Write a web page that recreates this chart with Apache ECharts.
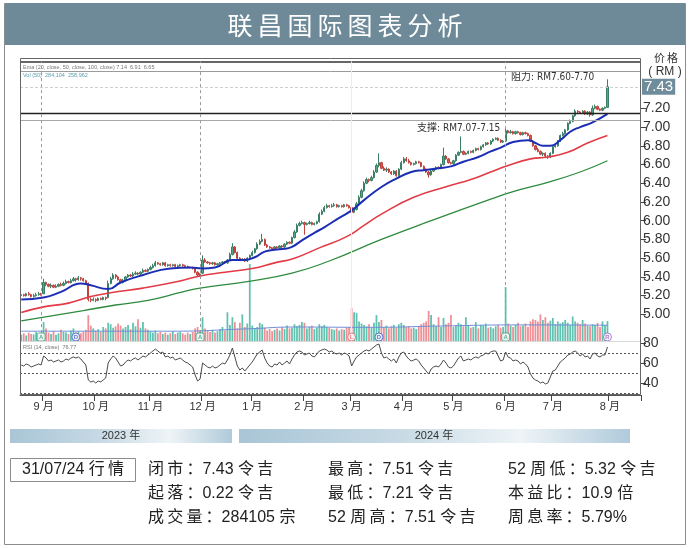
<!DOCTYPE html>
<html>
<head>
<meta charset="utf-8">
<title>联昌国际图表分析</title>
<script src="https://cdn.jsdelivr.net/npm/echarts@6/dist/echarts.min.js"></script>
<style>
html, body { margin: 0; padding: 0; background: #fff; }
#chart { width: 690px; height: 548px; }
</style>
</head>
<body>
<div id="chart"></div>
<script>
// month labels for the time axis (first trading day of each month)
var monthNames = ['', '9 月', '10 月', '11 月', '12 月', '1 月', '2 月', '3 月', '4 月', '5 月', '6 月', '7 月'];
var padLabel = '8 月';
var padDays = 13;

// daily candles [open, close, low, high]
var k2308 = [[5.20,5.21,5.18,5.23],[5.21,5.20,5.19,5.22],[5.20,5.22,5.19,5.23],[5.22,5.21,5.20,5.24],[5.21,5.19,5.18,5.22],[5.19,5.20,5.18,5.22],[5.20,5.21,5.19,5.23],[5.21,5.22,5.20,5.24],[5.22,5.21,5.20,5.23]];
var k2309 = [[5.22,5.34,5.22,5.38],[5.34,5.32,5.30,5.35],[5.32,5.30,5.29,5.33],[5.30,5.31,5.28,5.33],[5.31,5.29,5.28,5.32],[5.29,5.30,5.28,5.32],[5.30,5.32,5.29,5.33],[5.32,5.31,5.30,5.34],[5.31,5.33,5.30,5.35],[5.33,5.35,5.32,5.37],[5.35,5.34,5.33,5.36],[5.34,5.36,5.33,5.38],[5.36,5.38,5.35,5.40],[5.38,5.37,5.35,5.39],[5.37,5.39,5.36,5.41],[5.39,5.38,5.36,5.40],[5.38,5.36,5.35,5.39],[5.36,5.33,5.32,5.37],[5.33,5.16,5.14,5.34],[5.16,5.15,5.13,5.18],[5.15,5.16,5.14,5.18]];
var k2310 = [[5.16,5.15,5.13,5.17],[5.15,5.17,5.14,5.18],[5.17,5.16,5.15,5.18],[5.16,5.18,5.15,5.19],[5.18,5.17,5.15,5.19],[5.18,5.33,5.17,5.36],[5.33,5.38,5.32,5.40],[5.38,5.42,5.37,5.44],[5.42,5.40,5.38,5.43],[5.40,5.37,5.36,5.41],[5.37,5.34,5.33,5.38],[5.34,5.36,5.33,5.38],[5.36,5.40,5.35,5.41],[5.40,5.42,5.39,5.43],[5.42,5.41,5.40,5.43],[5.41,5.43,5.40,5.45],[5.43,5.44,5.42,5.46],[5.44,5.43,5.42,5.45],[5.43,5.45,5.42,5.46],[5.45,5.47,5.44,5.49],[5.47,5.46,5.45,5.48],[5.46,5.48,5.45,5.49]];
var k2311 = [[5.48,5.50,5.47,5.52],[5.50,5.52,5.49,5.54],[5.52,5.55,5.51,5.57],[5.55,5.54,5.53,5.56],[5.54,5.53,5.52,5.55],[5.53,5.55,5.52,5.56],[5.55,5.52,5.51,5.56],[5.52,5.53,5.51,5.54],[5.53,5.52,5.51,5.54],[5.52,5.53,5.51,5.54],[5.53,5.51,5.50,5.54],[5.51,5.52,5.50,5.53],[5.52,5.53,5.51,5.54],[5.53,5.52,5.51,5.54],[5.52,5.51,5.50,5.53],[5.51,5.50,5.49,5.52],[5.50,5.50,5.49,5.51],[5.50,5.49,5.48,5.51],[5.49,5.45,5.44,5.50],[5.45,5.42,5.40,5.46],[5.42,5.43,5.40,5.44]];
var k2312 = [[5.44,5.58,5.43,5.63],[5.58,5.56,5.55,5.60],[5.56,5.55,5.54,5.57],[5.55,5.54,5.53,5.56],[5.54,5.55,5.53,5.56],[5.55,5.53,5.52,5.56],[5.53,5.54,5.52,5.55],[5.54,5.55,5.53,5.56],[5.55,5.56,5.54,5.57],[5.56,5.55,5.54,5.57],[5.55,5.58,5.54,5.59],[5.58,5.64,5.57,5.66],[5.64,5.72,5.63,5.76],[5.72,5.66,5.65,5.73],[5.66,5.60,5.59,5.67],[5.60,5.58,5.57,5.61],[5.58,5.59,5.57,5.60],[5.59,5.57,5.56,5.60],[5.57,5.60,5.56,5.61],[5.60,5.63,5.59,5.64]];
var k2401 = [[5.63,5.66,5.62,5.68],[5.66,5.70,5.65,5.71],[5.70,5.75,5.69,5.77],[5.75,5.78,5.74,5.80],[5.78,5.80,5.77,5.86],[5.80,5.74,5.73,5.81],[5.74,5.72,5.71,5.75],[5.72,5.71,5.70,5.73],[5.71,5.70,5.69,5.72],[5.70,5.72,5.69,5.73],[5.72,5.71,5.70,5.73],[5.71,5.73,5.70,5.74],[5.73,5.72,5.71,5.74],[5.72,5.75,5.71,5.76],[5.75,5.77,5.74,5.78],[5.77,5.76,5.75,5.78],[5.76,5.82,5.75,5.83],[5.82,5.88,5.81,5.90],[5.88,5.95,5.87,5.97],[5.95,5.97,5.94,5.99],[5.97,5.98,5.96,6.00]];
var k2402 = [[5.98,5.96,5.85,5.99],[5.96,5.97,5.95,5.98],[5.97,5.98,5.96,6.00],[5.98,5.96,5.95,5.99],[5.96,5.97,5.95,5.98],[5.97,5.99,5.96,6.00],[5.99,6.07,5.98,6.09],[6.07,6.10,6.06,6.12],[6.10,6.14,6.09,6.16],[6.14,6.16,6.13,6.18],[6.16,6.15,6.14,6.17],[6.15,6.16,6.14,6.18],[6.16,6.17,6.15,6.19],[6.17,6.15,6.14,6.18],[6.15,6.16,6.14,6.17],[6.16,6.15,6.14,6.17],[6.15,6.17,6.14,6.18],[6.17,6.16,6.15,6.18],[6.16,6.14,6.13,6.17]];
var k2403 = [[6.14,6.09,6.04,6.15],[6.09,6.12,6.08,6.14],[6.12,6.18,6.11,6.20],[6.18,6.25,6.17,6.27],[6.25,6.32,6.24,6.34],[6.32,6.40,6.31,6.42],[6.40,6.44,6.39,6.46],[6.44,6.43,6.41,6.45],[6.43,6.46,6.42,6.48],[6.46,6.52,6.45,6.54],[6.52,6.59,6.51,6.61],[6.59,6.62,6.57,6.72],[6.62,6.56,6.55,6.63],[6.56,6.54,6.53,6.58],[6.54,6.55,6.52,6.57],[6.55,6.52,6.51,6.56],[6.52,6.50,6.49,6.53],[6.50,6.53,6.49,6.54],[6.53,6.48,6.47,6.54],[6.48,6.55,6.47,6.56],[6.55,6.62,6.54,6.64]];
var k2404 = [[6.62,6.66,6.61,6.68],[6.66,6.64,6.63,6.68],[6.64,6.62,6.61,6.66],[6.62,6.60,6.59,6.63],[6.60,6.61,6.59,6.62],[6.61,6.63,6.60,6.64],[6.63,6.62,6.61,6.64],[6.62,6.58,6.57,6.63],[6.58,6.55,6.54,6.59],[6.55,6.52,6.51,6.56],[6.52,6.49,6.46,6.53],[6.49,6.53,6.48,6.54],[6.53,6.55,6.52,6.56],[6.55,6.57,6.54,6.58],[6.57,6.56,6.55,6.58],[6.56,6.60,6.55,6.61],[6.60,6.69,6.59,6.78],[6.69,6.66,6.65,6.70],[6.66,6.62,6.61,6.67],[6.62,6.61,6.60,6.63]];
var k2405 = [[6.61,6.64,6.60,6.65],[6.64,6.70,6.63,6.71],[6.70,6.73,6.69,6.74],[6.73,6.74,6.72,6.90],[6.74,6.71,6.70,6.75],[6.71,6.72,6.70,6.73],[6.72,6.74,6.71,6.75],[6.74,6.73,6.72,6.75],[6.73,6.75,6.72,6.76],[6.75,6.77,6.74,6.78],[6.77,6.76,6.75,6.78],[6.76,6.79,6.75,6.80],[6.79,6.81,6.78,6.82],[6.81,6.83,6.80,6.84],[6.83,6.82,6.81,6.84],[6.82,6.85,6.81,6.86],[6.85,6.87,6.84,6.88],[6.87,6.88,6.86,6.89],[6.88,6.86,6.85,6.89],[6.86,6.84,6.83,6.87],[6.84,6.85,6.83,6.86]];
var k2406 = [[6.85,6.96,6.84,6.99],[6.96,6.94,6.93,6.97],[6.94,6.95,6.93,6.97],[6.95,6.93,6.92,6.96],[6.93,6.95,6.92,6.96],[6.95,6.94,6.93,6.96],[6.94,6.92,6.91,6.95],[6.92,6.94,6.91,6.95],[6.94,6.93,6.92,6.95],[6.93,6.91,6.90,6.94],[6.91,6.85,6.84,6.92],[6.85,6.80,6.79,6.86],[6.80,6.76,6.75,6.81],[6.76,6.74,6.73,6.78],[6.74,6.71,6.70,6.75],[6.71,6.72,6.69,6.73],[6.72,6.69,6.67,6.73],[6.69,6.68,6.66,6.70],[6.68,6.72,6.67,6.73]];
var k2407 = [[6.72,6.79,6.71,6.80],[6.79,6.80,6.78,6.82],[6.80,6.85,6.79,6.86],[6.85,6.91,6.84,6.92],[6.91,6.93,6.90,6.95],[6.93,6.97,6.92,6.98],[6.97,7.04,6.96,7.05],[7.04,7.06,7.03,7.08],[7.06,7.12,7.05,7.13],[7.12,7.17,7.11,7.19],[7.17,7.16,7.14,7.18],[7.16,7.15,7.14,7.17],[7.15,7.17,7.14,7.18],[7.17,7.14,7.13,7.18],[7.14,7.16,7.13,7.17],[7.16,7.13,7.11,7.17],[7.13,7.20,7.12,7.23],[7.20,7.22,7.19,7.24],[7.22,7.19,7.18,7.23],[7.19,7.18,7.17,7.20],[7.18,7.20,7.17,7.21],[7.20,7.21,7.19,7.22],[7.21,7.43,7.21,7.51]];

// daily volume ('000)
var v2308 = [90,110,80,120,100,95,130,85,110];
var v2309 = [270,180,120,100,140,90,110,160,130,120,100,150,180,120,140,110,130,160,370,220,180];
var v2310 = [150,170,130,200,180,260,240,190,210,250,220,180,200,230,170,260,210,310,190,270,180,160];
var v2311 = [140,120,150,110,130,100,120,90,110,140,100,120,130,110,90,120,100,130,180,200,150];
var v2312 = [340,180,150,130,160,120,140,170,200,150,410,230,340,270,180,260,380,200,250,1100];
var v2401 = [220,180,200,260,240,190,150,170,140,160,180,150,200,170,220,180,190,240,210,230,270];
var v2402 = [260,180,200,220,170,190,240,210,230,200,190,170,160,180,150,170,160,190,200];
var v2403 = [470,410,400,280,250,230,210,240,190,260,370,270,300,200,220,180,210,230,190,240,260];
var v2404 = [230,200,210,180,190,170,200,240,260,280,430,370,240,210,340,200,330,240,260,370];
var v2405 = [200,230,260,240,210,340,220,190,200,270,180,230,220,250,190,200,180,210,230,190,200];
var v2406 = [770,250,220,200,230,260,210,220,250,200,280,310,300,280,380,300,340,260,290];
var v2407 = [330,240,280,250,270,300,260,230,350,280,260,240,300,250,220,210,240,230,260,200,280,230,284];

// RSI (14)
var r2308 = [58,57,59,58,56,57,58,59,58];
var r2309 = [67,65,62,63,61,62,63,61,62,64,63,65,66,65,66,64,61,58,43,41,42];
var r2310 = [40,42,41,43,45,60,64,67,65,61,57,58,61,63,62,64,65,63,65,67,66,68];
var r2311 = [70,72,74,72,70,71,66,67,65,66,63,64,65,63,61,60,58,56,48,42,44];
var r2312 = [60,58,56,55,57,55,56,58,60,59,63,68,75,66,57,53,55,52,55,58];
var r2401 = [61,65,69,71,73,65,60,57,56,59,58,61,58,60,62,59,64,68,71,72,71];
var r2402 = [68,69,70,67,66,69,72,73,74,73,71,72,70,69,70,68,70,69,67];
var r2403 = [57,62,66,68,70,72,73,72,74,76,78,79,70,65,66,64,62,64,60,66,70];
var r2404 = [71,67,64,62,63,64,62,58,55,52,49,54,56,57,56,59,63,60,56,55];
var r2405 = [57,61,65,67,62,63,64,63,65,66,65,67,68,70,69,71,72,72,67,62,63];
var r2406 = [71,66,65,62,63,62,59,61,59,56,49,45,43,42,40,41,39,40,46];
var r2407 = [52,53,57,61,63,65,68,69,71,72,70,67,69,66,67,64,69,70,67,66,68,68,76];

// moving averages read at points [day index, value]
var ema20Pts = [[0,5.16],[9,5.18],[16,5.24],[24,5.33],[28,5.31],[35,5.27],[40,5.34],[49,5.42],[60,5.49],[68,5.50],[73,5.49],[78,5.50],[85,5.58],[90,5.58],[94,5.61],[98,5.67],[102,5.69],[106,5.70],[109,5.72],[113,5.79],[118,5.87],[122,5.93],[128,6.03],[133,6.11],[138,6.22],[145,6.36],[151,6.45],[157,6.52],[162,6.54],[168,6.56],[173,6.58],[178,6.63],[184,6.68],[189,6.74],[193,6.78],[198,6.84],[204,6.86],[207,6.83],[210,6.80],[213,6.80],[217,6.86],[221,6.95],[225,7.00],[230,7.05],[236,7.14]];
var ema50Pts = [[0,5.02],[9,5.08],[19,5.12],[28,5.19],[36,5.23],[49,5.28],[63,5.35],[72,5.41],[82,5.45],[93,5.49],[102,5.55],[110,5.60],[120,5.71],[131,5.83],[138,5.95],[145,6.07],[158,6.25],[172,6.37],[181,6.44],[189,6.52],[196,6.59],[205,6.66],[212,6.68],[220,6.73],[228,6.83],[236,6.91]];
var ema100Pts = [[0,4.93],[25,5.04],[38,5.10],[51,5.15],[65,5.24],[72,5.28],[91,5.35],[109,5.44],[124,5.57],[145,5.80],[165,6.00],[189,6.23],[198,6.31],[212,6.41],[225,6.52],[236,6.64]];
var volMaPts = [[0,140],[60,140],[92,175],[110,200],[140,195],[170,215],[200,230],[236,225]];

// events marked on the volume baseline
var eventIdx = [8, 22, 72, 133, 144, 195, 236];
var eventTag = ['A', 'D', 'A', 'L', 'D', 'A', 'R'];

// price levels
var resistance = [7.60, 7.70];
var support = [7.07, 7.15];
var lastClose = 7.43;
var priceTicks = [5.0, 5.2, 5.4, 5.6, 5.8, 6.0, 6.2, 6.4, 6.6, 6.8, 7.0, 7.2];
var rsiTicks = [40, 60, 80];
var rsiGuides = [70, 50, 30];

// quote box
var quoteDate = '31/07/24 行情';
var quoteCols = [
    ['闭市：7.43 令吉', '起落：0.22 令吉', '成交量：284105 宗'],
    ['最高：7.51 令吉', '最低：7.21 令吉', '52 周高：7.51 令吉'],
    ['52 周低：5.32 令吉', '本益比：10.9 倍', '周息率：5.79%']
];

var kMonths = [k2308, k2309, k2310, k2311, k2312, k2401, k2402, k2403, k2404, k2405, k2406, k2407];
var vMonths = [v2308, v2309, v2310, v2311, v2312, v2401, v2402, v2403, v2404, v2405, v2406, v2407];
var rMonths = [r2308, r2309, r2310, r2311, r2312, r2401, r2402, r2403, r2404, r2405, r2406, r2407];

var cats = [], labelAt = {}, candles = [], volumes = [], rsi = [];
kMonths.forEach(function(m, mi) {
    m.forEach(function(c, d) {
        if (d === 0 && monthNames[mi]) labelAt[cats.length] = monthNames[mi];
        cats.push('m' + mi + 'd' + d);
        candles.push(c);
    });
    volumes = volumes.concat(vMonths[mi]);
    rsi = rsi.concat(rMonths[mi]);
});
labelAt[cats.length] = padLabel;
for (var p = 0; p < padDays; p++) cats.push('pad' + p);

var volData = volumes.map(function(v, i) {
    var up = candles[i][1] >= candles[i][0];
    return { value: v, itemStyle: { color: up ? '#62c2b1' : '#f08f95' } };
});

var tagColor = { A: '#3a9c7b', D: '#3f55c9', L: '#e0646d', R: '#9c62c4' };
var eventData = eventIdx.map(function(i, n) {
    return {
        value: [i, 57],
        symbol: eventTag[n] === 'A' ? 'roundRect' : 'circle',
        itemStyle: { color: '#fff', borderColor: tagColor[eventTag[n]], borderWidth: 1 },
        label: { show: true, formatter: eventTag[n], color: tagColor[eventTag[n]], fontSize: 6, fontWeight: 'bold' }
    };
});

var NUM = "'Liberation Sans', 'Noto Sans CJK SC', sans-serif";
var NARROW = "'Liberation Sans Narrow', 'DejaVu Sans Condensed', 'Noto Sans CJK SC', sans-serif";
var CJK = "'Noto Sans CJK SC', sans-serif";

function spaced(s) {
    return s.replace(/([\u4e00-\u9fff])(?=[\u4e00-\u9fff：])/g, '$1\u2009');
}

var priceMarks = [
    { yAxis: resistance[1], lineStyle: { color: '#333', width: 1.5, type: 'solid' } },
    { yAxis: resistance[0], lineStyle: { color: '#9a9a9a', width: 1, type: 'solid' } },
    { yAxis: support[1], lineStyle: { color: '#222', width: 1.3, type: 'solid' } },
    { yAxis: support[0], lineStyle: { color: '#a8a8a8', width: 1, type: 'solid' } },
    { yAxis: lastClose, lineStyle: { color: '#cfcfcf', width: 1, type: [3, 2] },
      label: { show: true, position: 'end', distance: 1, formatter: lastClose.toFixed(2),
               color: '#fff', backgroundColor: '#6f8c9c', padding: [1, 2, 0, 2],
               fontSize: 15, fontFamily: NUM } },
    { xAxis: cats[133], lineStyle: { color: '#ececec', width: 1, type: 'solid' } }
];
eventIdx.forEach(function(i, n) {
    if (eventTag[n] === 'A') priceMarks.push({ xAxis: cats[i], lineStyle: { color: '#9a9a9a', width: 1, type: [3, 3] } });
});

var yearBarFill = {
    type: 'linear', x: 0, y: 0, x2: 1, y2: 0,
    colorStops: [
        { offset: 0, color: '#a9c5d6' }, { offset: 0.4, color: '#c6d9e4' },
        { offset: 0.72, color: '#eef4f7' }, { offset: 1, color: '#b0cada' }
    ]
};

var graphics = [
    { type: 'rect', shape: { x: 4.5, y: 3.5, width: 681, height: 541 }, style: { fill: 'none', stroke: '#8c8c8c', lineWidth: 1 }, z: 0 },
    { type: 'rect', shape: { x: 5, y: 3, width: 680, height: 42 }, style: { fill: '#6e8a99' }, z: 0 },
    { type: 'text', x: 345, y: 25, style: { text: spaced('联昌国际图表分析'), fill: '#fff', fontSize: 25, fontFamily: CJK, textAlign: 'center', textVerticalAlign: 'middle' } },
    { type: 'rect', shape: { x: 20.5, y: 58.5, width: 620, height: 336 }, style: { fill: 'none', stroke: '#666', lineWidth: 1 }, z: 10 },
    { type: 'line', shape: { x1: 21, y1: 341.5, x2: 640, y2: 341.5 }, style: { stroke: '#d8d8d8', lineWidth: 1 }, z: 10 },
    { type: 'text', x: 23, y: 67, style: { text: 'Ema (20, close, 50, close, 100, close) 7.14  6.91  6.65', fill: '#777', fontSize: 5.5, fontFamily: NUM, textVerticalAlign: 'middle' } },
    { type: 'text', x: 23, y: 75, style: { text: 'Vol (50)  284,104  258,962', fill: '#5b9db0', fontSize: 5.5, fontFamily: NUM, textVerticalAlign: 'middle' } },
    { type: 'text', x: 23, y: 347, style: { text: 'RSI (14, close)  76.77', fill: '#777', fontSize: 5.5, fontFamily: NUM, textVerticalAlign: 'middle' } },
    { type: 'text', x: 511, y: 77, style: { text: '阻力: RM7.60-7.70', fill: '#333', fontSize: 10, fontFamily: NARROW, textVerticalAlign: 'middle' } },
    { type: 'text', x: 417, y: 128, style: { text: '支撑: RM7.07-7.15', fill: '#333', fontSize: 10, fontFamily: NARROW, textVerticalAlign: 'middle' } },
    { type: 'text', x: 666, y: 58, style: { text: '价\u2009格', fill: '#333', fontSize: 11, fontFamily: CJK, textAlign: 'center', textVerticalAlign: 'middle' } },
    { type: 'text', x: 665, y: 72, style: { text: '( RM )', fill: '#333', fontSize: 12, fontFamily: NUM, textAlign: 'center', textVerticalAlign: 'middle' } },
    { type: 'rect', shape: { x: 10, y: 429, width: 222, height: 14 }, style: { fill: yearBarFill } },
    { type: 'rect', shape: { x: 239, y: 429, width: 391, height: 14 }, style: { fill: yearBarFill } },
    { type: 'text', x: 121, y: 436, style: { text: '2023 年', fill: '#333', fontSize: 11, fontFamily: NUM, textAlign: 'center', textVerticalAlign: 'middle' } },
    { type: 'text', x: 434, y: 436, style: { text: '2024 年', fill: '#333', fontSize: 11, fontFamily: NUM, textAlign: 'center', textVerticalAlign: 'middle' } },
    { type: 'rect', shape: { x: 10.5, y: 458.5, width: 125, height: 23 }, style: { fill: '#fff', stroke: '#8c8c8c', lineWidth: 1 } },
    { type: 'text', x: 73, y: 470, style: { text: spaced(quoteDate), fill: '#222', fontSize: 16, fontFamily: NUM, textAlign: 'center', textVerticalAlign: 'middle' } }
];
var colX = [148, 328, 508];
var rowY = [470, 494, 518];
quoteCols.forEach(function(col, c) {
    col.forEach(function(s, r) {
        graphics.push({ type: 'text', x: colX[c], y: rowY[r], style: { text: spaced(s), fill: '#222', fontSize: 16, fontFamily: NUM, textVerticalAlign: 'middle' } });
    });
});

var gridL = 20, gridR = 49;
var option = {
    backgroundColor: '#fff',
    animation: false,
    grid: [
        { left: gridL, right: gridR, top: 61.5, height: 271.6 },
        { left: gridL, right: gridR, top: 250, height: 91 },
        { left: gridL, right: gridR, top: 341, height: 54 }
    ],
    xAxis: [
        { type: 'category', gridIndex: 0, data: cats, show: false },
        { type: 'category', gridIndex: 1, data: cats, show: false },
        { type: 'category', gridIndex: 2, data: cats,
          axisLine: { show: true, lineStyle: { color: '#555' } },
          axisTick: { show: true, length: 6, lineStyle: { color: '#444' },
                      interval: function(i) { return labelAt[i] !== undefined; } },
          axisLabel: { interval: function(i) { return labelAt[i] !== undefined; },
                       formatter: function(v, i) { return labelAt[i] || ''; },
                       fontSize: 11, color: '#333', fontFamily: NUM, margin: 6 },
          splitLine: { show: false } }
    ],
    yAxis: [
        { type: 'value', gridIndex: 0, position: 'right', min: 4.8, max: 7.7, scale: true,
          axisLine: { show: false },
          axisTick: { show: true, length: 5, customValues: priceTicks, lineStyle: { color: '#444' } },
          axisLabel: { customValues: priceTicks, formatter: function(v) { return v.toFixed(2); },
                       fontSize: 14, color: '#333', fontFamily: NUM, margin: 2 },
          splitLine: { show: false } },
        { type: 'value', gridIndex: 1, min: 0, max: 1300, show: false, splitLine: { show: false } },
        { type: 'value', gridIndex: 2, position: 'right', min: 28, max: 82,
          axisLine: { show: false },
          axisTick: { show: true, length: 5, customValues: rsiTicks, lineStyle: { color: '#444' } },
          axisLabel: { customValues: rsiTicks, fontSize: 14, color: '#333', fontFamily: NUM, margin: 2 },
          splitLine: { show: false } }
    ],
    series: [
        {
            type: 'candlestick', xAxisIndex: 0, yAxisIndex: 0, data: candles,
            barWidth: '70%',
            itemStyle: { color: '#56a586', color0: '#d9574f', borderColor: '#3a7e64', borderColor0: '#c2423b', borderWidth: 1 },
            markLine: { silent: true, symbol: ['none', 'none'], label: { show: false }, data: priceMarks }
        },
        { type: 'line', xAxisIndex: 0, yAxisIndex: 0, data: ema100Pts, smooth: true, symbol: 'none', lineStyle: { color: '#2e8b3e', width: 1.3 } },
        { type: 'line', xAxisIndex: 0, yAxisIndex: 0, data: ema50Pts, smooth: true, symbol: 'none', lineStyle: { color: '#e23b46', width: 1.6 } },
        { type: 'line', xAxisIndex: 0, yAxisIndex: 0, data: ema20Pts, smooth: true, symbol: 'none', lineStyle: { color: '#1c2fb4', width: 2 } },
        { type: 'bar', xAxisIndex: 1, yAxisIndex: 1, data: volData, barWidth: '72%' },
        { type: 'line', xAxisIndex: 1, yAxisIndex: 1, data: volMaPts, smooth: true, symbol: 'none', lineStyle: { color: '#6f8fd6', width: 1 } },
        { type: 'scatter', xAxisIndex: 1, yAxisIndex: 1, data: eventData, symbolSize: 8, z: 5 },
        {
            type: 'line', xAxisIndex: 2, yAxisIndex: 2, data: rsi, symbol: 'none',
            lineStyle: { color: '#4a4a4a', width: 1 },
            markLine: { silent: true, symbol: ['none', 'none'], label: { show: false },
                        lineStyle: { color: '#555', width: 1, type: [2, 2] },
                        data: rsiGuides.map(function(g) { return { yAxis: g }; }) }
        }
    ],
    graphic: graphics
};

var myChart = echarts.init(document.getElementById('chart'));
myChart.setOption(option);
</script>
</body>
</html>
